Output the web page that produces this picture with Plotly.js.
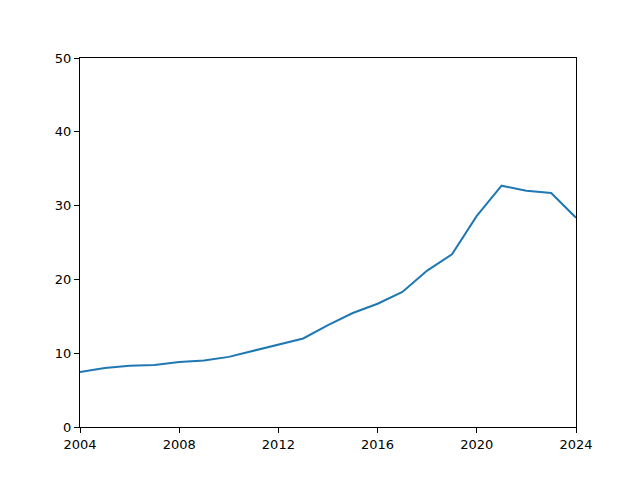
<!DOCTYPE html>
<html>
<head>
<meta charset="utf-8">
<script src="https://cdn.plot.ly/plotly-3.0.1.min.js"></script>
<style>
  html, body { margin: 0; padding: 0; background: #fff; }
  #chart { width: 640px; height: 480px; }
</style>
</head>
<body>
<div id="chart"></div>
<script>
// values
const years = [2004, 2005, 2006, 2007, 2008, 2009, 2010, 2011, 2012, 2013, 2014,
               2015, 2016, 2017, 2018, 2019, 2020, 2021, 2022, 2023, 2024];
const values = [7.45, 8.0, 8.3, 8.4, 8.8, 9.0, 9.5, 10.3, 11.1, 12.0, 13.8,
                15.45, 16.7, 18.3, 21.2, 23.4, 28.6, 32.7, 32.0, 31.7, 28.35];
const xTicks = [2004, 2008, 2012, 2016, 2020, 2024];
const yTicks = [0, 10, 20, 30, 40, 50];

const trace = {
    x: years,
    y: values,
    mode: 'lines',
    type: 'scatter',
    line: { color: '#1f77b4', width: 2 },
    hoverinfo: 'skip'
};

const axisStyle = {
    showgrid: false,
    zeroline: false,
    showline: true,
    mirror: true,
    linecolor: '#000',
    linewidth: 1,
    ticks: 'outside',
    ticklen: 5,
    tickwidth: 1,
    tickcolor: '#000',
    tickfont: { family: 'DejaVu Sans', size: 13, color: '#000' }
};

const layout = {
    width: 640,
    height: 480,
    margin: { l: 80, r: 64, t: 58, b: 53 },
    paper_bgcolor: '#fff',
    plot_bgcolor: '#fff',
    showlegend: false,
    xaxis: Object.assign({}, axisStyle, {
        range: [2004, 2024],
        tickvals: xTicks,
        ticktext: xTicks.map(String)
    }),
    yaxis: Object.assign({}, axisStyle, {
        range: [0, 50],
        tickvals: yTicks,
        ticktext: yTicks.map(String)
    })
};

Plotly.newPlot('chart', [trace], layout, { displayModeBar: false, staticPlot: true });
</script>
</body>
</html>
